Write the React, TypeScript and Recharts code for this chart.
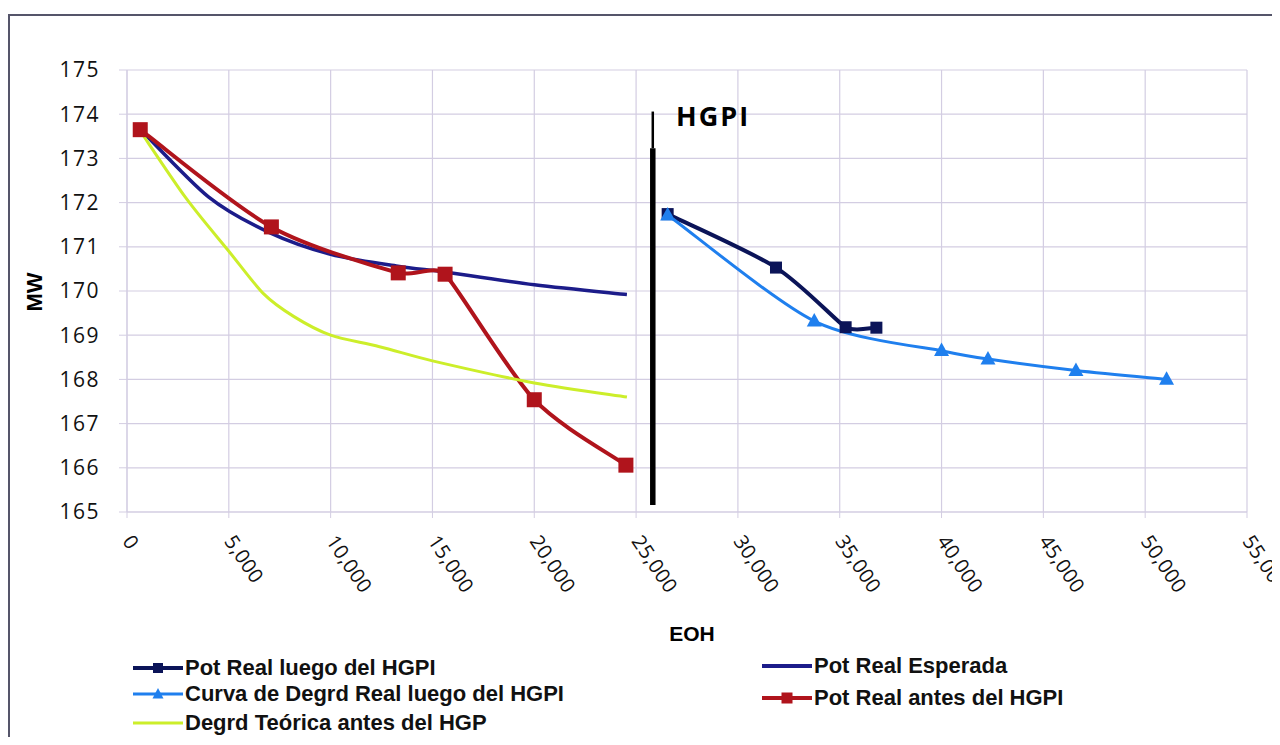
import React from 'react';
import { LineChart, Line, XAxis, YAxis, CartesianGrid, ReferenceLine, ReferenceDot } from 'recharts';

// ---- data ----
const xTicks = [0, 5000, 10000, 15000, 20000, 25000, 30000, 35000, 40000, 45000, 50000, 55000];
const yTicks = [165, 166, 167, 168, 169, 170, 171, 172, 173, 174, 175];

const potRealLuegoX = [26550, 31870, 35290, 36800];
const potRealLuegoY = [171.74, 170.53, 169.18, 169.17];

const esperadaX = [650, 4000, 7000, 10000, 13300, 15600, 20000, 24550];
const esperadaY = [173.66, 172.13, 171.32, 170.83, 170.56, 170.43, 170.14, 169.92];

const curvaDegrdX = [26550, 33750, 40000, 42280, 46600, 51050];
const curvaDegrdY = [171.72, 169.32, 168.65, 168.46, 168.2, 168.0];

const antesX = [650, 7090, 13320, 15620, 20000, 24500];
const antesY = [173.65, 171.45, 170.41, 170.38, 167.54, 166.06];

const teoricaX = [650, 2900, 5000, 6700, 8200, 10000, 12400, 15000, 20000, 24550];
const teoricaY = [173.62, 172.1, 170.9, 169.94, 169.42, 169.0, 168.74, 168.42, 167.92, 167.6];

const hgpiX = 25820;
const hgpiThickY = [165.16, 173.23];
const hgpiThinY = [173.23, 174.06];
const hgpiLabelX = 28780;
const hgpiLabelY = 173.94;
const hgpiLabel = 'HGPI';

const seriesNames = [
  'Pot Real luego del HGPI',
  'Pot Real Esperada',
  'Curva de Degrd Real luego del HGPI',
  'Pot Real antes del HGPI',
  'Degrd Teórica antes del HGP',
];

const toPoints = (xs: number[], ys: number[]) => xs.map((x, i) => ({ x, y: ys[i] }));

const potRealLuego = toPoints(potRealLuegoX, potRealLuegoY);
const esperada = toPoints(esperadaX, esperadaY);
const curvaDegrd = toPoints(curvaDegrdX, curvaDegrdY);
const antes = toPoints(antesX, antesY);
const teorica = toPoints(teoricaX, teoricaY);

// ---- Excel-like smoothed line (length-limited Catmull-Rom Bezier) ----
function excelSmooth(context: any) {
  let pts: [number, number][] = [];
  const dist = (a: [number, number], b: [number, number]) => Math.hypot(b[0] - a[0], b[1] - a[1]);
  return {
    areaStart() {},
    areaEnd() {},
    lineStart() {
      pts = [];
    },
    point(x: number, y: number) {
      pts.push([+x, +y]);
    },
    lineEnd() {
      const n = pts.length;
      if (n === 0) return;
      context.moveTo(pts[0][0], pts[0][1]);
      for (let i = 0; i < n - 1; i++) {
        const p1 = pts[i];
        const p2 = pts[i + 1];
        const p0 = pts[i - 1] || p1;
        const p3 = pts[i + 2] || p2;
        const d12 = dist(p1, p2) || 1;
        const d01 = i > 0 ? dist(p0, p1) : d12;
        const d23 = i + 2 < n ? dist(p2, p3) : d12;
        const f1 = Math.min(d01, d12) / (d01 + d12) / 3;
        const f2 = Math.min(d12, d23) / (d12 + d23) / 3;
        const t1x = i > 0 ? p2[0] - p0[0] : p2[0] - p1[0];
        const t1y = i > 0 ? p2[1] - p0[1] : p2[1] - p1[1];
        const t2x = i + 2 < n ? p3[0] - p1[0] : p2[0] - p1[0];
        const t2y = i + 2 < n ? p3[1] - p1[1] : p2[1] - p1[1];
        context.bezierCurveTo(
          p1[0] + t1x * f1,
          p1[1] + t1y * f1,
          p2[0] - t2x * f2,
          p2[1] - t2y * f2,
          p2[0],
          p2[1]
        );
      }
    },
  };
}

// ---- styles ----
const NAVY = '#0b1458';
const ESPERADA = '#1c1c8a';
const LBLUE = '#1f7fee';
const RED = '#b0141c';
const YELLOW = '#ccee2a';
const GRID = '#d3cde2';
const TICK_FONT = "'Open Sans', 'DejaVu Sans', sans-serif";
const LEGEND_FONT = "'Liberation Sans', Arial, sans-serif";

const squareDot = (size: number, color: string) => (props: any) => {
  const { cx, cy, index } = props;
  if (cx == null || cy == null) return <g key={index} />;
  return <rect key={index} x={cx - size / 2} y={cy - size / 2} width={size} height={size} fill={color} />;
};

const triangleDot = (size: number, color: string) => (props: any) => {
  const { cx, cy, index } = props;
  if (cx == null || cy == null) return <g key={index} />;
  const h = size * 0.9;
  const pts = `${cx},${cy - h * 0.6} ${cx - size / 2},${cy + h * 0.4} ${cx + size / 2},${cy + h * 0.4}`;
  return <polygon key={index} points={pts} fill={color} />;
};

const XTick = (props: any) => {
  const { x, y, payload } = props;
  return (
    <g transform={`translate(${x + 1},${y + 17})`}>
      <text
        x={0}
        y={0}
        transform="rotate(56)"
        textAnchor="start"
        dominantBaseline="central"
        fontFamily={TICK_FONT}
        fontSize={20}
        letterSpacing={0.3}
        fill="#111"
      >
        {Number(payload.value).toLocaleString('en-US')}
      </text>
    </g>
  );
};

const MWLabel = (props: any) => {
  const vb = props.viewBox || { x: 0, y: 62, width: 119, height: 442 };
  const cx = 26;
  const cy = vb.y + vb.height / 2 + 1;
  return (
    <text
      x={cx}
      y={cy}
      transform={`rotate(-90 ${cx} ${cy})`}
      textAnchor="middle"
      dominantBaseline="central"
      fontFamily="'Liberation Sans', Arial, sans-serif"
      fontWeight="bold"
      fontSize={22}
      fill="#000"
    >
      MW
    </text>
  );
};

const EOHLabel = (props: any) => {
  const vb = props.viewBox || { x: 119, y: 504, width: 1120, height: 225 };
  const cx = vb.x + vb.width / 2 + 5;
  const cy = vb.y + 121;
  return (
    <text
      x={cx}
      y={cy}
      textAnchor="middle"
      dominantBaseline="central"
      fontFamily="'Liberation Sans', Arial, sans-serif"
      fontWeight="bold"
      fontSize={21}
      fill="#000"
    >
      EOH
    </text>
  );
};

type LegendItem = { name: string; color: string; width: number; marker: 'square' | 'triangle' | 'none'; left: number; top: number; msize: number };

const legendItems: LegendItem[] = [
  { name: seriesNames[0], color: NAVY, width: 4, marker: 'square', left: 125, top: 660, msize: 10 },
  { name: seriesNames[1], color: ESPERADA, width: 4, marker: 'none', left: 754, top: 658, msize: 0 },
  { name: seriesNames[2], color: LBLUE, width: 3, marker: 'triangle', left: 125, top: 686, msize: 11 },
  { name: seriesNames[3], color: RED, width: 4, marker: 'square', left: 754, top: 690, msize: 11 },
  { name: seriesNames[4], color: YELLOW, width: 3, marker: 'none', left: 125, top: 715, msize: 0 },
];

const Legend = () => (
  <>
    {legendItems.map((it) => (
      <div
        key={it.name}
        style={{
          position: 'absolute',
          left: it.left,
          top: it.top - 14,
          height: 28,
          display: 'flex',
          alignItems: 'center',
          whiteSpace: 'nowrap',
        }}
      >
        <svg width={50} height={28} style={{ display: 'block' }}>
          <line x1={0} y1={14} x2={50} y2={14} stroke={it.color} strokeWidth={it.width} />
          {it.marker === 'square' && (
            <rect x={25 - it.msize / 2} y={14 - it.msize / 2} width={it.msize} height={it.msize} fill={it.color} />
          )}
          {it.marker === 'triangle' && (
            <polygon points={`25,${14 - it.msize * 0.55} ${25 - it.msize / 2},${14 + it.msize * 0.4} ${25 + it.msize / 2},${14 + it.msize * 0.4}`} fill={it.color} />
          )}
        </svg>
        <span
          style={{
            marginLeft: 2,
            fontFamily: LEGEND_FONT,
            fontWeight: 'bold',
            fontSize: 22,
            color: '#111',
            lineHeight: '28px',
          }}
        >
          {it.name}
        </span>
      </div>
    ))}
  </>
);

export default function App() {
  return (
    <div style={{ position: 'relative', width: 1272, height: 729, overflow: 'hidden', background: '#fff' }}>
      <div
        style={{
          position: 'absolute',
          left: 0,
          top: 6,
          width: 1400,
          height: 800,
          borderLeft: '2px solid #55556a',
          borderTop: '2px solid #55556a',
          boxSizing: 'border-box',
        }}
      />
      <div style={{ position: 'absolute', left: 0, top: 0 }}>
        <LineChart width={1272} height={729} margin={{ top: 62, right: 33, left: 0, bottom: 0 }}>
          <CartesianGrid stroke={GRID} strokeWidth={1.2} />
          <XAxis
            type="number"
            dataKey="x"
            domain={[0, 55000]}
            ticks={xTicks}
            interval={0}
            height={225}
            tick={<XTick />}
            tickSize={6}
            tickLine={{ stroke: GRID }}
            axisLine={{ stroke: GRID }}
            allowDataOverflow
            label={{ value: 'EOH', content: (p: any) => <EOHLabel {...p} /> }}
          />
          <YAxis
            type="number"
            domain={[165, 175]}
            ticks={yTicks}
            interval={0}
            width={119}
            tickSize={8}
            tickMargin={19}
            tickLine={{ stroke: GRID }}
            axisLine={{ stroke: GRID }}
            tick={{ fontFamily: TICK_FONT, fontSize: 21, fill: '#111', letterSpacing: 1.5 } as any}
            allowDataOverflow
            label={{ value: 'MW', content: (p: any) => <MWLabel {...p} /> }}
          />
          <Line
            data={potRealLuego}
            dataKey="y"
            name={seriesNames[0]}
            type={excelSmooth as any}
            stroke={NAVY}
            strokeWidth={4}
            dot={squareDot(12, NAVY)}
            activeDot={false}
            isAnimationActive={false}
          />
          <Line
            data={esperada}
            dataKey="y"
            name={seriesNames[1]}
            type={excelSmooth as any}
            stroke={ESPERADA}
            strokeWidth={3.5}
            dot={false}
            activeDot={false}
            isAnimationActive={false}
          />
          <Line
            data={curvaDegrd}
            dataKey="y"
            name={seriesNames[2]}
            type={excelSmooth as any}
            stroke={LBLUE}
            strokeWidth={3}
            dot={triangleDot(15, LBLUE)}
            activeDot={false}
            isAnimationActive={false}
          />
          <Line
            data={antes}
            dataKey="y"
            name={seriesNames[3]}
            type={excelSmooth as any}
            stroke={RED}
            strokeWidth={4}
            dot={squareDot(15, RED)}
            activeDot={false}
            isAnimationActive={false}
          />
          <Line
            data={teorica}
            dataKey="y"
            name={seriesNames[4]}
            type={excelSmooth as any}
            stroke={YELLOW}
            strokeWidth={3}
            dot={false}
            activeDot={false}
            isAnimationActive={false}
          />
          <ReferenceLine
            segment={[{ x: hgpiX, y: hgpiThickY[0] }, { x: hgpiX, y: hgpiThickY[1] }]}
            stroke="#000"
            strokeWidth={5.5}
            ifOverflow="visible"
          />
          <ReferenceLine
            segment={[{ x: hgpiX, y: hgpiThinY[0] }, { x: hgpiX, y: hgpiThinY[1] }]}
            stroke="#000"
            strokeWidth={2.5}
            ifOverflow="visible"
          />
          <ReferenceDot
            x={hgpiLabelX}
            y={hgpiLabelY}
            r={0}
            fill="none"
            stroke="none"
            ifOverflow="visible"
            label={{
              value: hgpiLabel,
              position: 'center',
              fontFamily: TICK_FONT,
              fontWeight: 700,
              fontSize: 27,
              fill: '#000',
              letterSpacing: 2,
            } as any}
          />
        </LineChart>
      </div>
      <Legend />
    </div>
  );
}
